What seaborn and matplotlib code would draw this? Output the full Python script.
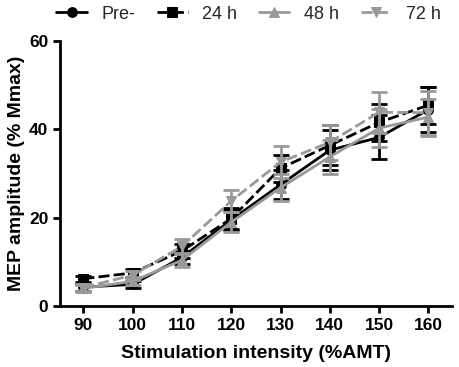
import numpy as np
import pandas as pd
import seaborn as sns
import matplotlib.pyplot as plt

sns.set_style('ticks')
plt.rcParams['font.family'] = ['Liberation Sans', 'DejaVu Sans']

# Dữ liệu
intensity = [90, 100, 110, 120, 130, 140, 150, 160]
groups = ['Pre-', '24 h', '48 h', '72 h']
pre = [4.3, 4.9, 11.0, 19.5, 27.5, 35.3, 38.2, 44.5]
h24 = [6.2, 7.5, 12.5, 19.8, 31.2, 36.4, 41.6, 45.5]
h48 = [4.0, 5.6, 10.4, 19.0, 26.8, 33.8, 40.3, 42.8]
h72 = [4.2, 7.0, 13.5, 23.8, 32.6, 37.1, 43.9, 43.8]
pre_err = [0.8, 0.8, 1.5, 2.3, 3.3, 4.6, 5.0, 5.0]
h24_err = [0.7, 0.9, 1.6, 2.3, 3.1, 4.5, 4.2, 4.2]
h48_err = [0.8, 0.9, 1.6, 2.3, 3.0, 3.8, 4.3, 4.2]
h72_err = [0.8, 1.0, 1.6, 2.4, 3.6, 4.0, 4.6, 5.0]

values = [pre, h24, h48, h72]
errors = [pre_err, h24_err, h48_err, h72_err]
colors = ['black', 'black', '#999999', '#999999']
markers = ['o', 's', '^', 'v']
dashes = [None, (4, 1.5), None, (4, 1.5)]

df = pd.DataFrame({
    'x': intensity * 4,
    'y': pre + h24 + h48 + h72,
    'group': [g for g in groups for _ in intensity],
})

fig = plt.figure(figsize=(4.59, 3.67), dpi=100)
ax = fig.add_axes([0.131, 0.166, 0.854, 0.722])

for g, v, e, c, m, d in zip(groups, values, errors, colors, markers, dashes):
    sub = df[df['group'] == g]
    ls = '-' if d is None else (0, d)
    sns.lineplot(data=sub, x='x', y='y', ax=ax, color=c, marker=m,
                 markersize=7, markeredgecolor=c, linestyle=ls, linewidth=2,
                 label=g)
    ax.errorbar(intensity, v, yerr=e, fmt='none', ecolor=c, elinewidth=2,
                capsize=6, capthick=2)

ax.set_xlim(85.3, 164.8)
ax.set_ylim(0, 60)
ax.set_xticks(intensity)
ax.set_yticks([0, 20, 40, 60])
for lab in ax.get_xticklabels() + ax.get_yticklabels():
    lab.set_fontweight('bold')
    lab.set_fontsize(12.5)
ax.tick_params(width=2, length=5, colors='black')
for s in ['left', 'bottom']:
    ax.spines[s].set_linewidth(2)
    ax.spines[s].set_color('black')
sns.despine(ax=ax)
ax.set_xlabel('Stimulation intensity (%AMT)', fontsize=14, fontweight='bold',
              labelpad=9, color='black')
ax.set_ylabel('MEP amplitude (% Mmax)', fontsize=14, fontweight='bold',
              labelpad=3, color='black')

ax.legend(loc='lower left', bbox_to_anchor=(-0.01, 1.07), ncol=4,
          frameon=False, fontsize=13, handlelength=1.7, columnspacing=1.2,
          handletextpad=0.8, borderaxespad=0, borderpad=0)

fig.savefig('out.png', dpi=100)
